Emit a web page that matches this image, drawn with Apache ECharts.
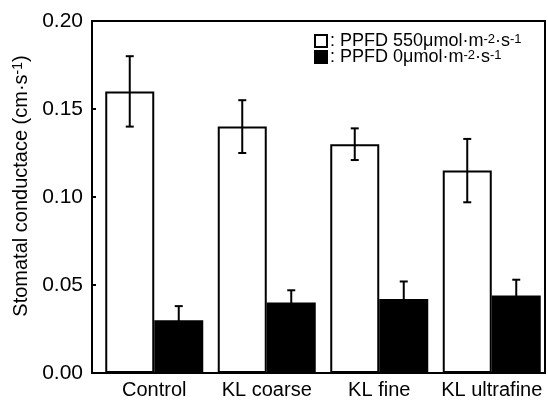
<!DOCTYPE html>
<html>
<head>
<meta charset="utf-8">
<script src="https://cdn.jsdelivr.net/npm/echarts@6/dist/echarts.min.js"></script>
<style>
html,body{margin:0;padding:0;background:#fff;}
#chart{width:548px;height:403px;}
</style>
</head>
<body>
<div id="chart"></div>
<script>
const categories = ['Control', 'KL coarse', 'KL fine', 'KL ultrafine'];
const light = [0.160, 0.140, 0.130, 0.115];
const lightErr = [0.020, 0.015, 0.009, 0.018];
const dark = [0.030, 0.040, 0.042, 0.044];
const darkErr = [0.008, 0.007, 0.010, 0.009];
const yTicks = [0.00, 0.05, 0.10, 0.15, 0.20];
const seriesNames = ['PPFD 550', 'PPFD 0'];
const legendTexts = [': PPFD 550μmol·m{sup|-2}·s{sup|-1}', ': PPFD 0μmol·m{sup|-2}·s{sup|-1}'];
const yTitle = 'Stomatal conductace (cm·s{sup|-1})';

const FONT = '"Liberation Sans", Arial, Helvetica, sans-serif';
const BAR_W = 49;

const chart = echarts.init(document.getElementById('chart'), null, {renderer: 'canvas'});

function errItem(offsetSign) {
  return function (params, api) {
    const idx = api.value(0);
    const cx = api.coord([idx, 0])[0] + offsetSign * BAR_W / 2;
    const lo = api.coord([idx, api.value(1)])[1];
    const hi = api.coord([idx, api.value(2)])[1];
    const cap = 4;
    const st = {stroke: '#000', lineWidth: 2};
    return {
      type: 'group',
      children: [
        {type: 'line', shape: {x1: cx, y1: lo, x2: cx, y2: hi}, style: st},
        {type: 'line', shape: {x1: cx - cap, y1: hi, x2: cx + cap, y2: hi}, style: st},
        {type: 'line', shape: {x1: cx - cap, y1: lo, x2: cx + cap, y2: lo}, style: st}
      ]
    };
  };
}

function makeLegend(i, top) {
  return {
    orient: 'vertical',
    left: 309, top: top,
    itemWidth: 12, itemHeight: 12, itemGap: 0,
    data: [seriesNames[i]],
    icon: 'rect',
    formatter: name => legendTexts[seriesNames.indexOf(name)],
    textStyle: {
      color: '#000', fontSize: 18, fontFamily: FONT, lineHeight: 17, padding: [0, 0, 0, -2],
      rich: {sup: {fontSize: 13, fontFamily: FONT, color: '#000', verticalAlign: 'top', lineHeight: 12, padding: [0, 0, 6, 0]}}
    }
  };
}

const option = {
  animation: false,
  backgroundColor: '#fff',
  grid: [
    {left: 92, right: 3, top: 21, bottom: 30, show: true, borderColor: '#000', borderWidth: 2, backgroundColor: 'transparent'},
    {left: 98, right: 0, top: 21, bottom: 30}
  ],
  xAxis: [
    {gridIndex: 0, type: 'value', min: 0, max: 1, show: false},
    {gridIndex: 1, type: 'category', data: categories,
     axisLine: {show: false}, axisTick: {show: false},
     axisLabel: {color: '#000', fontSize: 20, fontFamily: FONT, margin: 7, interval: 0}}
  ],
  yAxis: [
    {gridIndex: 0, type: 'value', min: yTicks[0], max: yTicks[yTicks.length - 1], interval: 0.05,
     axisLine: {show: true, lineStyle: {color: '#000', width: 2}},
     axisTick: {show: true, inside: true, length: 4, lineStyle: {color: '#000', width: 2}},
     splitLine: {show: false},
     axisLabel: {color: '#000', fontSize: 21, fontFamily: FONT, margin: 9,
       formatter: v => v.toFixed(2)}},
    {gridIndex: 1, type: 'value', min: yTicks[0], max: yTicks[yTicks.length - 1], show: false}
  ],
  legend: [makeLegend(0, 27), makeLegend(1, 43)],
  graphic: [{
    type: 'text',
    x: 21, y: 186,
    rotation: Math.PI / 2,
    style: {
      text: yTitle,
      font: '20px ' + FONT,
      fill: '#000',
      align: 'center',
      verticalAlign: 'middle',
      rich: {sup: {fontSize: 14, fontFamily: FONT, fill: '#000', verticalAlign: 'top', lineHeight: 13, padding: [0, 0, 8, 0]}}
    }
  }],
  series: [
    {name: seriesNames[0], type: 'bar', xAxisIndex: 1, yAxisIndex: 1, data: light,
     barWidth: BAR_W, barGap: '0%',
     itemStyle: {color: '#fff', borderColor: '#000', borderWidth: 2}},
    {name: seriesNames[1], type: 'bar', xAxisIndex: 1, yAxisIndex: 1, data: dark,
     barWidth: BAR_W, barGap: '0%',
     itemStyle: {color: '#000', borderColor: '#000', borderWidth: 2}},
    {type: 'custom', xAxisIndex: 1, yAxisIndex: 1, z: 5,
     renderItem: errItem(-1), encode: {x: 0, y: [1, 2]},
     data: categories.map((c, i) => [i, light[i] - lightErr[i], light[i] + lightErr[i]])},
    {type: 'custom', xAxisIndex: 1, yAxisIndex: 1, z: 5,
     renderItem: errItem(1), encode: {x: 0, y: [1, 2]},
     data: categories.map((c, i) => [i, dark[i] - darkErr[i], dark[i] + darkErr[i]])}
  ]
};
chart.setOption(option);
</script>
</body>
</html>
